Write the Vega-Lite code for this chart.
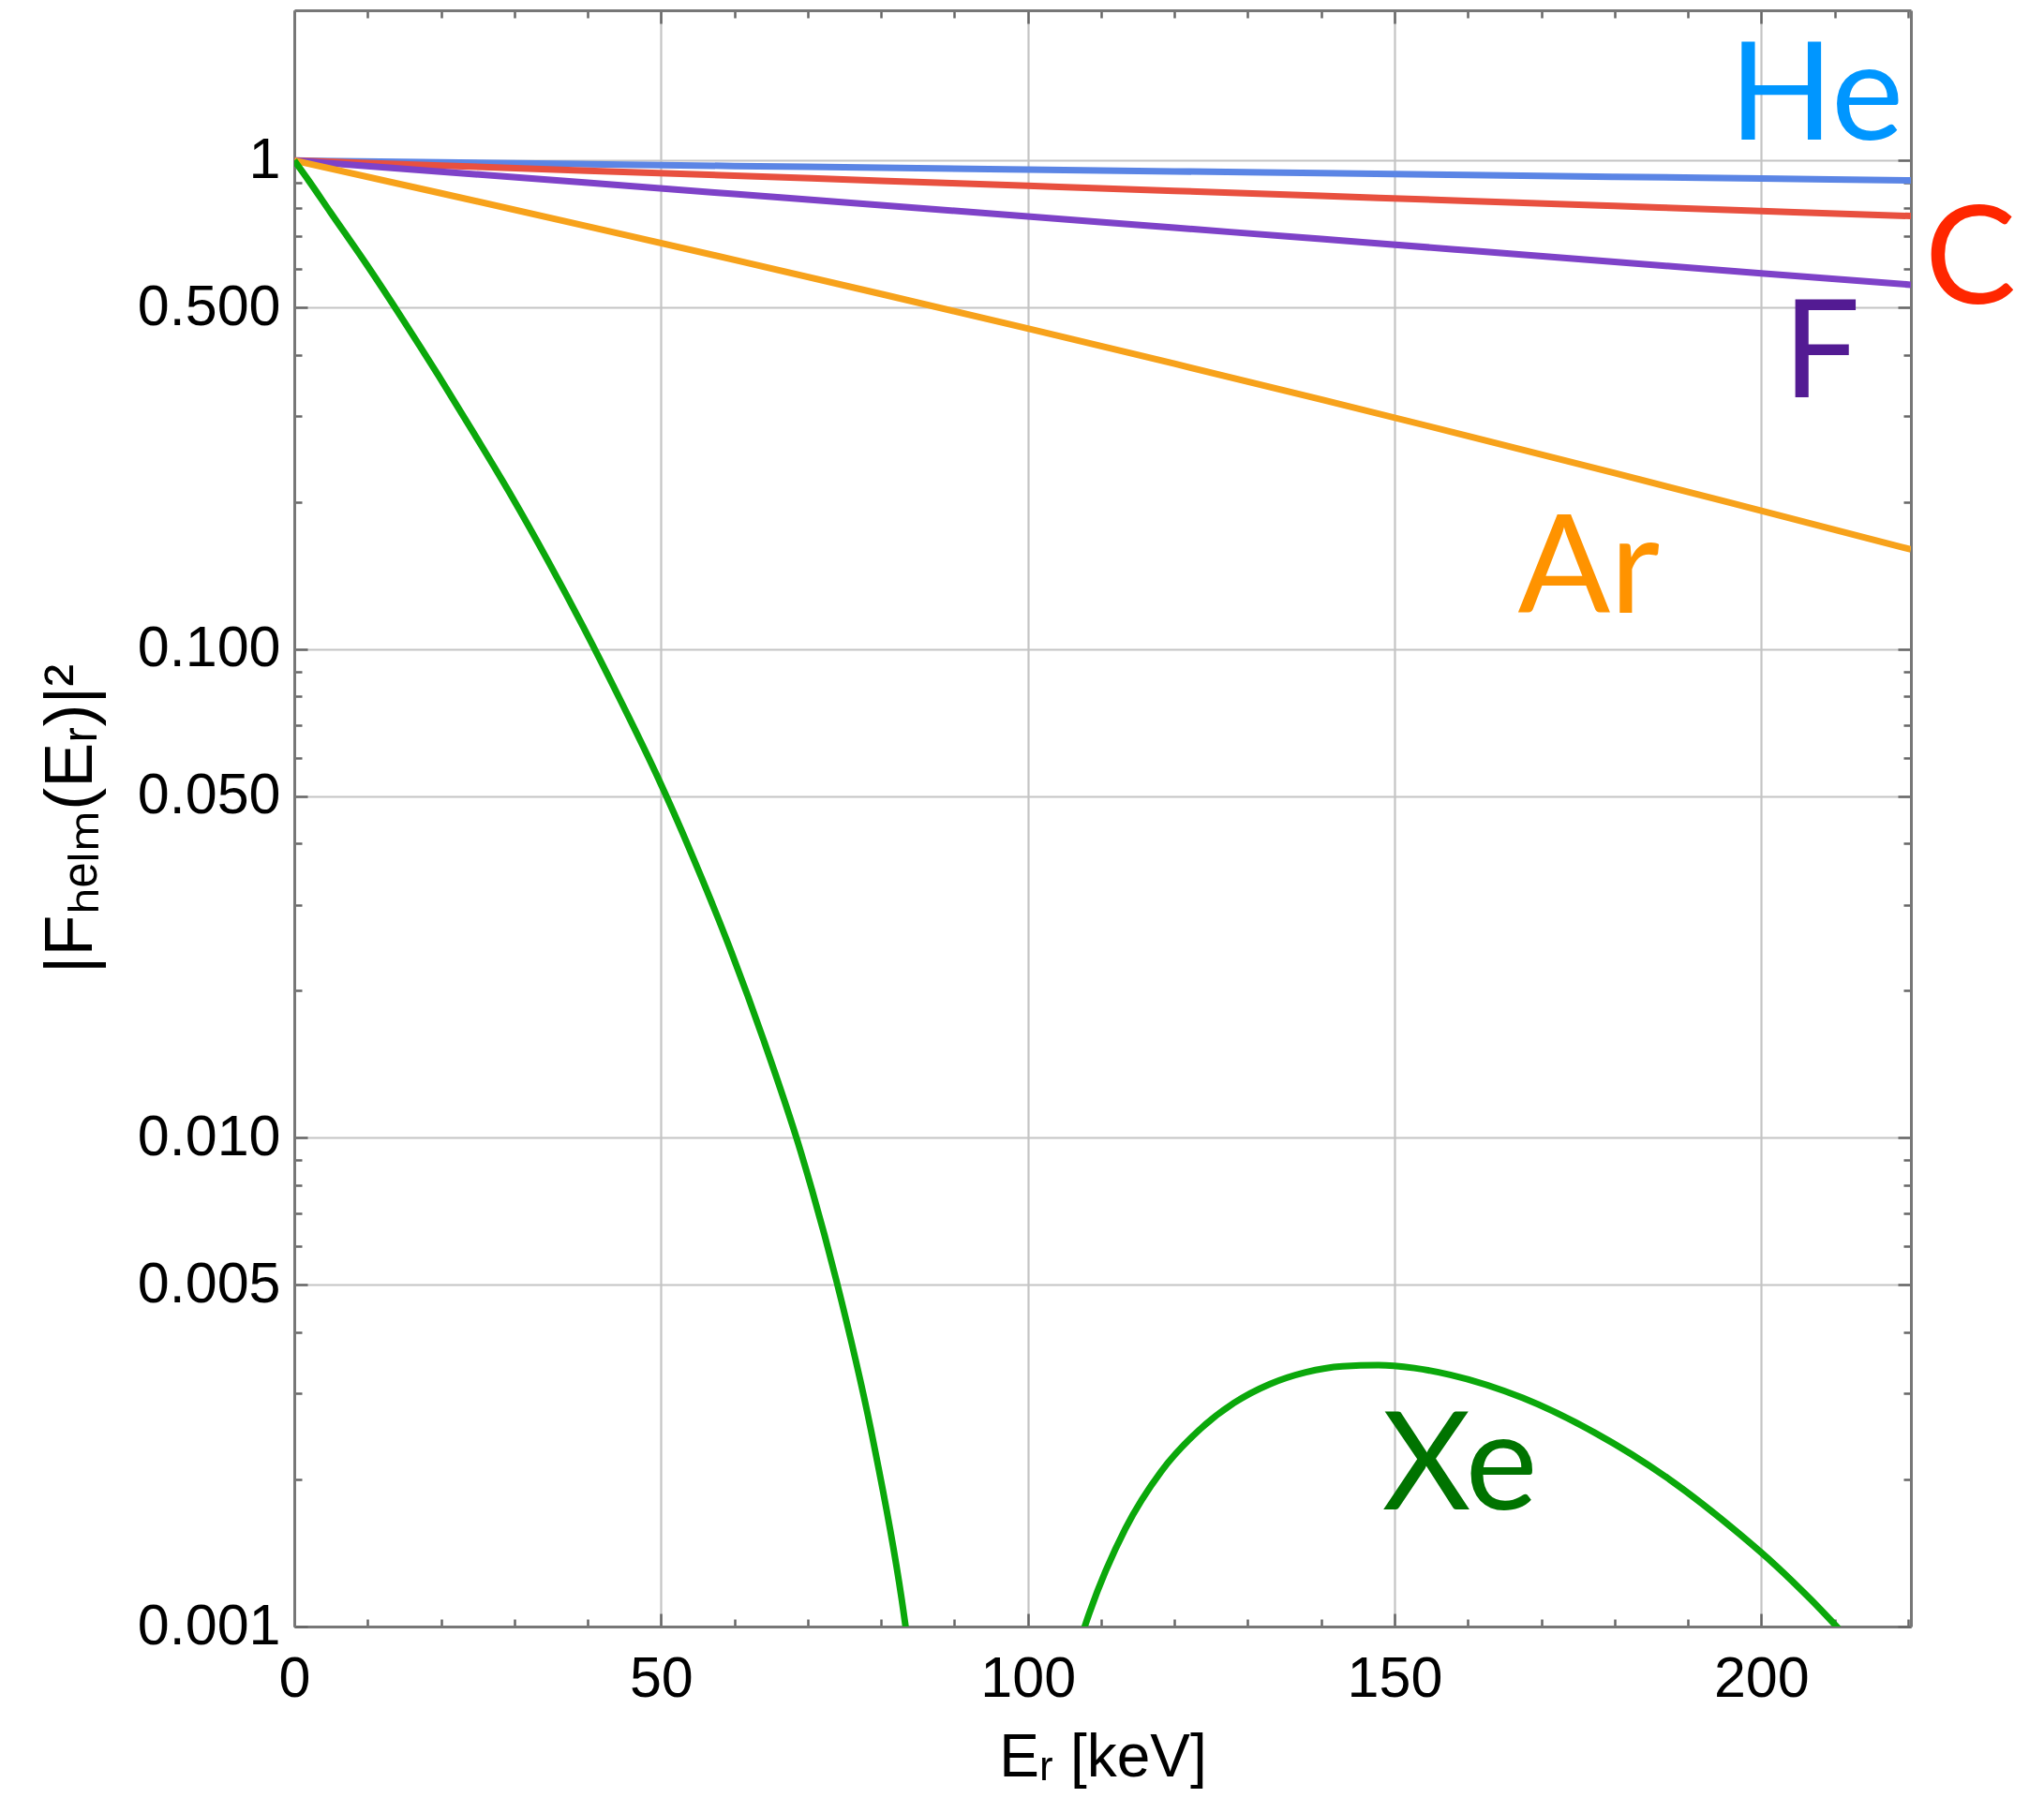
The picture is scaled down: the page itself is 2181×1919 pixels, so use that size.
{
  "$schema": "https://vega.github.io/schema/vega-lite/v6.json",
  "width": 1725,
  "height": 1725,
  "autosize": {"type": "none"},
  "padding": {"left": 314, "top": 11, "right": 142, "bottom": 183},
  "background": "white",
  "config": {
    "view": {"stroke": null},
    "axis": {
      "labelFont": "Liberation Sans",
      "labelFontSize": 61,
      "labelColor": "#000000",
      "titleFont": "Liberation Sans",
      "titleFontSize": 66,
      "titleFontWeight": "normal",
      "titleColor": "#000000",
      "domainColor": "#777777",
      "domainWidth": 3,
      "tickColor": "#666666",
      "tickWidth": 2.5,
      "gridColor": "#c4c4c4",
      "gridWidth": 2.2,
      "labelOverlap": false,
      "labelFlush": false,
      "labelBound": false
    }
  },
  "datasets": {
    "curves": [
      {"el": "He", "seg": "He", "E": 0, "F2": 1},
      {"el": "He", "seg": "He", "E": 20, "F2": 0.9916},
      {"el": "He", "seg": "He", "E": 40, "F2": 0.9832},
      {"el": "He", "seg": "He", "E": 60, "F2": 0.9749},
      {"el": "He", "seg": "He", "E": 80, "F2": 0.9667},
      {"el": "He", "seg": "He", "E": 100, "F2": 0.9585},
      {"el": "He", "seg": "He", "E": 120, "F2": 0.9504},
      {"el": "He", "seg": "He", "E": 140, "F2": 0.9424},
      {"el": "He", "seg": "He", "E": 160, "F2": 0.9344},
      {"el": "He", "seg": "He", "E": 180, "F2": 0.9265},
      {"el": "He", "seg": "He", "E": 200, "F2": 0.9187},
      {"el": "He", "seg": "He", "E": 220.4, "F2": 0.911},
      {"el": "C", "seg": "C", "E": 0, "F2": 1},
      {"el": "C", "seg": "C", "E": 20, "F2": 0.9765},
      {"el": "C", "seg": "C", "E": 40, "F2": 0.9536},
      {"el": "C", "seg": "C", "E": 60, "F2": 0.9312},
      {"el": "C", "seg": "C", "E": 80, "F2": 0.9093},
      {"el": "C", "seg": "C", "E": 100, "F2": 0.888},
      {"el": "C", "seg": "C", "E": 120, "F2": 0.8671},
      {"el": "C", "seg": "C", "E": 140, "F2": 0.8467},
      {"el": "C", "seg": "C", "E": 160, "F2": 0.8268},
      {"el": "C", "seg": "C", "E": 180, "F2": 0.8074},
      {"el": "C", "seg": "C", "E": 200, "F2": 0.7885},
      {"el": "C", "seg": "C", "E": 220.4, "F2": 0.77},
      {"el": "F", "seg": "F", "E": 0, "F2": 1},
      {"el": "F", "seg": "F", "E": 20, "F2": 0.9491},
      {"el": "F", "seg": "F", "E": 40, "F2": 0.9006},
      {"el": "F", "seg": "F", "E": 60, "F2": 0.8544},
      {"el": "F", "seg": "F", "E": 80, "F2": 0.8105},
      {"el": "F", "seg": "F", "E": 100, "F2": 0.7687},
      {"el": "F", "seg": "F", "E": 120, "F2": 0.7288},
      {"el": "F", "seg": "F", "E": 140, "F2": 0.691},
      {"el": "F", "seg": "F", "E": 160, "F2": 0.6549},
      {"el": "F", "seg": "F", "E": 180, "F2": 0.6206},
      {"el": "F", "seg": "F", "E": 200, "F2": 0.588},
      {"el": "F", "seg": "F", "E": 220.4, "F2": 0.557},
      {"el": "Ar", "seg": "Ar", "E": 0, "F2": 1},
      {"el": "Ar", "seg": "Ar", "E": 20, "F2": 0.8574},
      {"el": "Ar", "seg": "Ar", "E": 40, "F2": 0.7336},
      {"el": "Ar", "seg": "Ar", "E": 60, "F2": 0.6262},
      {"el": "Ar", "seg": "Ar", "E": 80, "F2": 0.5333},
      {"el": "Ar", "seg": "Ar", "E": 100, "F2": 0.4531},
      {"el": "Ar", "seg": "Ar", "E": 120, "F2": 0.3839},
      {"el": "Ar", "seg": "Ar", "E": 140, "F2": 0.3244},
      {"el": "Ar", "seg": "Ar", "E": 160, "F2": 0.2732},
      {"el": "Ar", "seg": "Ar", "E": 180, "F2": 0.2294},
      {"el": "Ar", "seg": "Ar", "E": 200, "F2": 0.192},
      {"el": "Ar", "seg": "Ar", "E": 220.4, "F2": 0.16},
      {"el": "Xe", "seg": "Xe1", "E": 0, "F2": 1},
      {"el": "Xe", "seg": "Xe1", "E": 2.0, "F2": 0.9084},
      {"el": "Xe", "seg": "Xe1", "E": 4.9, "F2": 0.7849},
      {"el": "Xe", "seg": "Xe1", "E": 9.9, "F2": 0.6116},
      {"el": "Xe", "seg": "Xe1", "E": 14.8, "F2": 0.4728},
      {"el": "Xe", "seg": "Xe1", "E": 19.7, "F2": 0.3622},
      {"el": "Xe", "seg": "Xe1", "E": 24.6, "F2": 0.2748},
      {"el": "Xe", "seg": "Xe1", "E": 29.6, "F2": 0.206},
      {"el": "Xe", "seg": "Xe1", "E": 34.5, "F2": 0.1525},
      {"el": "Xe", "seg": "Xe1", "E": 39.4, "F2": 0.1111},
      {"el": "Xe", "seg": "Xe1", "E": 44.3, "F2": 0.07956},
      {"el": "Xe", "seg": "Xe1", "E": 49.3, "F2": 0.05573},
      {"el": "Xe", "seg": "Xe1", "E": 54.2, "F2": 0.03801},
      {"el": "Xe", "seg": "Xe1", "E": 59.1, "F2": 0.02507},
      {"el": "Xe", "seg": "Xe1", "E": 64.0, "F2": 0.01583},
      {"el": "Xe", "seg": "Xe1", "E": 69.0, "F2": 0.00942},
      {"el": "Xe", "seg": "Xe1", "E": 73.9, "F2": 0.005111},
      {"el": "Xe", "seg": "Xe1", "E": 78.8, "F2": 0.002449},
      {"el": "Xe", "seg": "Xe1", "E": 82.8, "F2": 0.00114},
      {"el": "Xe", "seg": "Xe1", "E": 84.7, "F2": 0.000704},
      {"el": "Xe", "seg": "Xe2", "E": 104.4, "F2": 0.000666},
      {"el": "Xe", "seg": "Xe2", "E": 106.4, "F2": 0.000862},
      {"el": "Xe", "seg": "Xe2", "E": 108.4, "F2": 0.001066},
      {"el": "Xe", "seg": "Xe2", "E": 113.3, "F2": 0.001585},
      {"el": "Xe", "seg": "Xe2", "E": 118.2, "F2": 0.002078},
      {"el": "Xe", "seg": "Xe2", "E": 123.2, "F2": 0.002511},
      {"el": "Xe", "seg": "Xe2", "E": 128.1, "F2": 0.002867},
      {"el": "Xe", "seg": "Xe2", "E": 133.0, "F2": 0.003135},
      {"el": "Xe", "seg": "Xe2", "E": 137.9, "F2": 0.003315},
      {"el": "Xe", "seg": "Xe2", "E": 142.9, "F2": 0.00341},
      {"el": "Xe", "seg": "Xe2", "E": 147.8, "F2": 0.003429},
      {"el": "Xe", "seg": "Xe2", "E": 152.7, "F2": 0.00338},
      {"el": "Xe", "seg": "Xe2", "E": 157.6, "F2": 0.003275},
      {"el": "Xe", "seg": "Xe2", "E": 167.5, "F2": 0.002936},
      {"el": "Xe", "seg": "Xe2", "E": 177.3, "F2": 0.002493},
      {"el": "Xe", "seg": "Xe2", "E": 187.2, "F2": 0.002014},
      {"el": "Xe", "seg": "Xe2", "E": 197.0, "F2": 0.001548},
      {"el": "Xe", "seg": "Xe2", "E": 202.0, "F2": 0.001332},
      {"el": "Xe", "seg": "Xe2", "E": 206.9, "F2": 0.00113},
      {"el": "Xe", "seg": "Xe2", "E": 211.8, "F2": 0.000945}
    ],
    "labels": [
      {"el": "He", "E": 207.5, "F2": 1.103},
      {"el": "C", "E": 228.5, "F2": 0.5088},
      {"el": "F", "E": 208.2, "F2": 0.3271},
      {"el": "Ar", "E": 176.5, "F2": 0.1188},
      {"el": "Xe", "E": 158.9, "F2": 0.001738}
    ]
  },
  "layer": [
    {
      "data": {"name": "curves"},
      "mark": {"type": "line", "clip": true, "strokeWidth": 7, "interpolate": "monotone"},
      "encoding": {
        "x": {
          "field": "E",
          "type": "quantitative",
          "scale": {"domain": [0, 220.4], "nice": false, "zero": false},
          "axis": {
            "orient": "bottom",
            "values": [0, 10, 20, 30, 40, 50, 60, 70, 80, 90, 100, 110, 120, 130, 140, 150, 160, 170, 180, 190, 200, 210, 220],
            "labelExpr": "datum.value % 50 === 0 ? datum.label : ''",
            "grid": true,
            "gridOpacity": {"condition": {"test": "datum.value % 50 === 0", "value": 1}, "value": 0},
            "tickSize": {"condition": {"test": "datum.value % 50 === 0", "value": -14}, "value": -8},
            "labelPadding": 40,
            "title": "Eᵣ [keV]",
            "titleFontSize": 64,
            "titlePadding": 16
          }
        },
        "y": {
          "field": "F2",
          "type": "quantitative",
          "scale": {"type": "log", "domain": [0.001, 2.03], "nice": false},
          "axis": {
            "orient": "left",
            "values": [0.001, 0.002, 0.003, 0.004, 0.005, 0.006, 0.007, 0.008, 0.009, 0.01, 0.02, 0.03, 0.04, 0.05, 0.06, 0.07, 0.08, 0.09, 0.1, 0.2, 0.3, 0.4, 0.5, 0.6, 0.7, 0.8, 0.9, 1],
            "labelExpr": "datum.value === 1 ? '1' : (indexof([0.001, 0.005, 0.01, 0.05, 0.1, 0.5], datum.value) >= 0 ? format(datum.value, '.3f') : '')",
            "grid": true,
            "gridOpacity": {"condition": {"test": "indexof([0.001, 0.005, 0.01, 0.05, 0.1, 0.5, 1], datum.value) >= 0", "value": 1}, "value": 0},
            "tickSize": {"condition": {"test": "indexof([0.001, 0.005, 0.01, 0.05, 0.1, 0.5, 1], datum.value) >= 0", "value": -14}, "value": -8},
            "labelPadding": 29,
            "title": "|Fₕₑₗₘ(Eᵣ)|²",
            "titleFontSize": 72,
            "titlePadding": 34
          }
        },
        "color": {
          "field": "el",
          "type": "nominal",
          "scale": {"domain": ["He", "C", "F", "Ar", "Xe"], "range": ["#5b85e5", "#e8503f", "#7e42c8", "#f7a21b", "#0ba80b"]},
          "legend": null
        },
        "detail": {"field": "seg", "type": "nominal"}
      }
    },
    {
      "data": {"name": "labels"},
      "mark": {"type": "text", "font": "Lato", "fontSize": 146, "align": "center", "baseline": "alphabetic"},
      "encoding": {
        "x": {
          "field": "E",
          "type": "quantitative",
          "scale": {"domain": [0, 220.4], "nice": false, "zero": false},
          "axis": {
            "orient": "top",
            "values": [0, 10, 20, 30, 40, 50, 60, 70, 80, 90, 100, 110, 120, 130, 140, 150, 160, 170, 180, 190, 200, 210, 220],
            "labels": false,
            "grid": false,
            "title": null,
            "tickSize": {"condition": {"test": "datum.value % 50 === 0", "value": -14}, "value": -8}
          }
        },
        "y": {
          "field": "F2",
          "type": "quantitative",
          "scale": {"type": "log", "domain": [0.001, 2.03], "nice": false},
          "axis": {
            "orient": "right",
            "values": [0.001, 0.002, 0.003, 0.004, 0.005, 0.006, 0.007, 0.008, 0.009, 0.01, 0.02, 0.03, 0.04, 0.05, 0.06, 0.07, 0.08, 0.09, 0.1, 0.2, 0.3, 0.4, 0.5, 0.6, 0.7, 0.8, 0.9, 1],
            "labels": false,
            "grid": false,
            "title": null,
            "tickSize": {"condition": {"test": "indexof([0.001, 0.005, 0.01, 0.05, 0.1, 0.5, 1], datum.value) >= 0", "value": -14}, "value": -8}
          }
        },
        "text": {"field": "el", "type": "nominal"},
        "color": {
          "field": "el",
          "type": "nominal",
          "scale": {"domain": ["He", "C", "F", "Ar", "Xe"], "range": ["#0096ff", "#ff2600", "#531b93", "#ff9300", "#007300"]},
          "legend": null
        }
      }
    }
  ],
  "resolve": {
    "axis": {"x": "independent", "y": "independent"},
    "scale": {"color": "independent"}
  }
}
